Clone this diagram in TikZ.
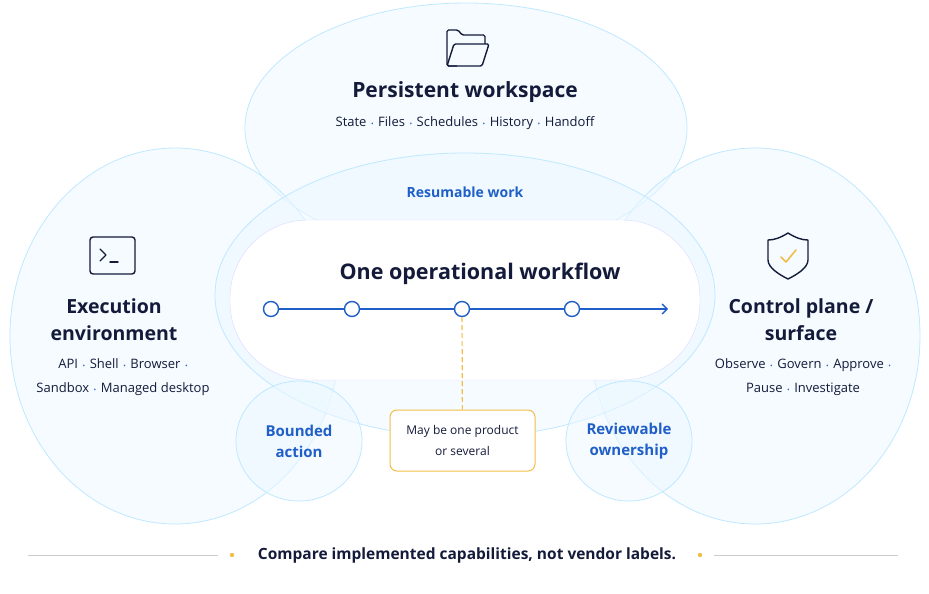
\documentclass[tikz,border=0pt]{standalone}
\usepackage{fontspec}
\usetikzlibrary{arrows.meta}
\setmainfont{Open Sans}
\newcommand{\sep}{\hspace{0.35em}{\color{acc}\fontsize{7}{8}\selectfont\textbullet}\hspace{0.35em}}
\begin{document}
\begin{tikzpicture}[x=1pt,y=-1pt,
  bub/.style={draw=blue!35!cyan!25,line width=0.8pt,fill=blue!40!cyan!7,fill opacity=0.55},
  blu/.style={text=acc},
  dot/.style={circle,draw=acc,line width=1.4pt,fill=white,inner sep=0pt,minimum size=15pt},
  sub/.style={font=\fontsize{13}{16}\selectfont,text=navy,align=center},
  big/.style={font=\fontsize{19.5}{27}\selectfont\bfseries,text=navy,align=center},
  lab/.style={font=\fontsize{15}{21}\selectfont\bfseries,text=acc,align=center}]
\definecolor{navy}{HTML}{141B3A}
\definecolor{acc}{HTML}{1F5FC7}
\definecolor{gold}{HTML}{F2BE4A}
\useasboundingbox (0,0) rectangle (929,594);
\fill[white] (0,0) rectangle (929,594);
\path[bub] (466,128) ellipse [x radius=221,y radius=125];
\path[bub] (175,336) ellipse [x radius=165,y radius=188];
\path[bub] (755,336) ellipse [x radius=165,y radius=188];
\path[bub] (465,295) ellipse [x radius=250,y radius=142];
\node[draw=blue!15,fill=white,rounded corners=78pt,minimum width=470pt,minimum height=160pt] (wf) at (465,300) {};
\path[bub] (299,441) ellipse [x radius=63,y radius=60];
\path[bub] (629,441) ellipse [x radius=63,y radius=60];
\node[lab] (bo) at (299,441) {Bounded\\action};
\node[lab] (ro) at (629,441) {Reviewable\\ownership};
\node[blu,font=\fontsize{14}{17}\selectfont\bfseries] (rw) at (465,192) {Resumable work};
\node[big,font=\fontsize{21}{25}\selectfont\bfseries] (pw) at (465,92) {Persistent workspace};
\node[sub] (pws) at (465,123) {State\sep Files\sep Schedules\sep History\sep Handoff};
\node[big] (ee) at (114,320) {Execution\\environment};
\node[sub,font=\fontsize{13}{24}\selectfont] (ees) at (123,377) {API\sep Shell\sep Browser\sep\\Sandbox\sep Managed desktop};
\node[big] (cp) at (801,320) {Control plane /\\surface};
\node[sub,font=\fontsize{13}{24}\selectfont] (cps) at (803,377) {Observe\sep Govern\sep Approve\sep\\Pause\sep Investigate};
\node[font=\fontsize{21.5}{25}\selectfont\bfseries,text=navy] (ow) at (480,274) {One operational workflow};
% timeline
\node[dot] (d1) at (271,309) {};
\node[dot] (d2) at (352,309) {};
\node[dot] (d3) at (462,309) {};
\node[dot] (d4) at (572,309) {};
\coordinate (end) at (668,309);
\draw[acc,line width=1.4pt] (d1)--(d2);
\draw[acc,line width=1.4pt] (d2)--(d3);
\draw[acc,line width=1.4pt] (d3)--(d4);
\draw[acc,line width=1.4pt,-{Straight Barb[length=5pt,width=10pt]}] (d4)--(end);
\node[draw=gold,line width=1pt,rounded corners=7pt,fill=white,minimum width=145pt,minimum height=61pt,align=center,font=\fontsize{12}{21}\selectfont,text=navy] (mb) at (462.5,440.5) {May be one product\\or several};
\draw[gold,line width=1.2pt,dash pattern=on 5pt off 3pt] (d3)--(mb);
% icons
\begin{scope}[navy,line width=1.4pt,line join=round]
\draw[rounded corners=1.5pt] (457,66) -- (447,66) -- (447,30) -- (458,30) -- (462,35) -- (485,35) -- (485,44);
\draw[rounded corners=1.5pt] (447,66) -- (454,44) -- (489,44) -- (482,66) -- cycle;
\draw[rounded corners=3pt] (90,237) rectangle (135,274);
\draw[line cap=round] (100,249) -- (106,255) -- (100,261);
\draw[line cap=round] (110,262) -- (118,262);
\draw (788,233) .. controls (780,238) and (774,240) .. (768,240) -- (768,260) .. controls (768,268) and (780,275) .. (788,279) .. controls (796,275) and (808,268) .. (808,260) -- (808,240) .. controls (802,240) and (796,238) .. (788,233) -- cycle;
\draw[gold,line width=1.6pt,line cap=round] (781,257) -- (786,262) -- (796,250);
\end{scope}
% footer
\coordinate (l1) at (28,555); \coordinate (l2) at (218,555);
\coordinate (r1) at (714,555); \coordinate (r2) at (898,555);
\draw[gray!40,line width=0.8pt] (l1)--(l2);
\draw[gray!40,line width=0.8pt] (r1)--(r2);
\fill[gold] (232,555) circle (2.2pt);
\fill[gold] (700,555) circle (2.2pt);
\node[font=\fontsize{15.5}{18}\selectfont\bfseries,text=navy] (ft) at (467,555) {Compare implemented capabilities, not vendor labels.};
\end{tikzpicture}
\end{document}
